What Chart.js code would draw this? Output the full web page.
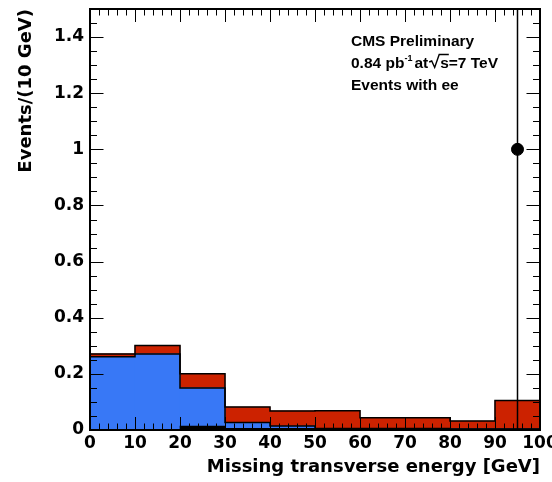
<!DOCTYPE html>
<html>
<head>
<meta charset="utf-8">
<script src="https://cdn.jsdelivr.net/npm/chart.js@4.4.1/dist/chart.umd.min.js"></script>
<style>
  html, body { margin: 0; padding: 0; background: #fff; }
</style>
</head>
<body>
<canvas id="met" width="552" height="482"></canvas>
<script>
// histogram bins (lower edges, GeV) and per-component contents
const binLow = [0, 10, 20, 30, 40, 50, 60, 70, 80, 90];
const binWidth = 10;
const blackVals = [0.002, 0.002, 0.014, 0.006, 0.006, 0.005, 0.005, 0.005, 0.004, 0.004];
const blueVals = [0.259, 0.269, 0.136, 0.021, 0.008, 0, 0, 0, 0, 0];
const redVals = [0.010, 0.030, 0.050, 0.055, 0.054, 0.064, 0.039, 0.039, 0.028, 0.101];

// observed data
const obsX = [95];
const obsY = [1];
const obsErr = [1];

// axes
const xTickVals = [0, 10, 20, 30, 40, 50, 60, 70, 80, 90, 100];
const yTickVals = [0, 0.2, 0.4, 0.6, 0.8, 1, 1.2, 1.4];
const xTitle = 'Missing transverse energy [GeV]';
const yTitle = 'Events/(10 GeV)';
const infoLines = ['CMS Preliminary', '0.84 pb', '-1', 'at', 's=7 TeV', 'Events with ee'];

const COLORS = { blue: '#3878F6', red: '#CC2200', black: '#000' };
const AXIS_FONT = '"DejaVu Sans", sans-serif';
const INFO_FONT = '"Liberation Sans", Arial, sans-serif';

// stacked tops
const cumBlack = blackVals.slice();
const cumBlue = blueVals.map((v, i) => v + cumBlack[i]);
const cumTotal = redVals.map((v, i) => v + cumBlue[i]);

const barPts = arr => arr.map((v, i) => ({ x: binLow[i] + binWidth / 2, y: v }));
const stepPts = arr => binLow.map((x, i) => ({ x, y: arr[i] }))
  .concat([{ x: binLow[binLow.length - 1] + binWidth, y: arr[arr.length - 1] }]);

const histBar = (data, color, order) => ({
  type: 'bar', data: barPts(data), backgroundColor: color, borderWidth: 0,
  grouped: false, barPercentage: 1, categoryPercentage: 1, order,
});
// chart.js 'before' = horizontal first, then the vertical step at the next edge
const histLine = (data, order) => ({
  type: 'line', data: stepPts(data), stepped: 'before', borderColor: '#000',
  borderWidth: 1.5, pointRadius: 0, fill: false, order, clip: 0,
});

// inward ticks on all four sides + frame, ROOT style
const frameTicks = {
  id: 'frameTicks',
  afterDatasetsDraw(chart) {
    const { ctx, chartArea: a, scales: { x, y } } = chart;
    ctx.save();
    ctx.strokeStyle = '#000';
    ctx.lineWidth = 1;
    ctx.beginPath();
    for (let v = 0; v <= 100.001; v += 2) {
      const px = Math.round(x.getPixelForValue(v)) + 0.5;
      const len = Math.abs(v % 10) < 0.01 ? 13 : 6.5;
      ctx.moveTo(px, a.bottom); ctx.lineTo(px, a.bottom - len);
      ctx.moveTo(px, a.top); ctx.lineTo(px, a.top + len);
    }
    for (let k = 0; k <= 30; k++) {
      const v = k * 0.05;
      const py = Math.round(y.getPixelForValue(v)) + 0.5;
      const len = k % 4 === 0 ? 13.5 : 7;
      ctx.moveTo(a.left, py); ctx.lineTo(a.left + len, py);
      ctx.moveTo(a.right, py); ctx.lineTo(a.right - len, py);
    }
    ctx.stroke();
    ctx.lineWidth = 2;
    ctx.strokeRect(a.left, a.top, a.right - a.left, a.bottom - a.top);
    ctx.restore();
  },
  afterDraw(chart) {
    const ctx = chart.ctx;
    ctx.save();
    ctx.fillStyle = '#000';
    ctx.strokeStyle = '#000';
    ctx.textBaseline = 'alphabetic';
    const big = 'bold 15.5px ' + INFO_FONT;
    const x0 = 351;
    ctx.font = big;
    ctx.fillText(infoLines[0], x0, 46);
    // luminosity line with superscript and sqrt(s)
    const b = 67.5;
    let x = x0;
    ctx.fillText(infoLines[1], x, b);
    x += ctx.measureText(infoLines[1]).width;
    ctx.font = 'bold 9px ' + INFO_FONT;
    ctx.fillText(infoLines[2], x, b - 7);
    x += ctx.measureText(infoLines[2]).width + 2;
    ctx.font = big;
    ctx.fillText(infoLines[3], x, b);
    x += ctx.measureText(infoLines[3]).width + 1;
    const sW = ctx.measureText('s').width;
    ctx.lineWidth = 1.4;
    ctx.beginPath();
    ctx.moveTo(x, b - 5.5);
    ctx.lineTo(x + 2.5, b - 6.5);
    ctx.lineTo(x + 5.5, b);
    ctx.lineTo(x + 10, b - 13);
    ctx.lineTo(x + 11 + sW, b - 13);
    ctx.stroke();
    ctx.fillText(infoLines[4], x + 11, b);
    ctx.fillText(infoLines[5], x0, 89.5);
    ctx.restore();
  },
};

new Chart(document.getElementById('met'), {
  type: 'bar',
  data: {
    datasets: [
      histBar(cumTotal, COLORS.red, 9),
      histBar(cumBlue, COLORS.blue, 8),
      histBar(cumBlack, COLORS.black, 7),
      histLine(cumTotal, 6),
      histLine(cumBlue, 5),
      {
        type: 'line', order: 2, clip: 0,
        data: obsX.flatMap((v, i) => [{ x: v, y: obsY[i] - obsErr[i] }, { x: v, y: obsY[i] + obsErr[i] }]),
        borderColor: '#000', borderWidth: 1.5, pointRadius: 0, fill: false,
      },
      {
        type: 'scatter', order: 1,
        data: obsX.map((v, i) => ({ x: v, y: obsY[i] })),
        backgroundColor: '#000', borderColor: '#000', pointRadius: 6, pointHoverRadius: 6,
      },
    ],
  },
  options: {
    responsive: false,
    animation: false,
    events: [],
    layout: { padding: { top: 9, right: 12, left: 0, bottom: 0 } },
    plugins: { legend: { display: false }, tooltip: { enabled: false } },
    scales: {
      x: {
        type: 'linear', min: 0, max: 100, offset: false,
        grid: { display: false, drawTicks: false },
        border: { display: false },
        ticks: { color: '#000', padding: 3, maxRotation: 0, font: { family: AXIS_FONT, size: 17, weight: 'bold' } },
        afterBuildTicks: s => { s.ticks = xTickVals.map(v => ({ value: v })); },
        afterFit: s => { s.height = 52; s.paddingLeft = 0; s.paddingRight = 0; },
        title: {
          display: true, text: xTitle, align: 'end', color: '#000',
          font: { family: AXIS_FONT, size: 18, weight: 'bold' }, padding: { bottom: 4, top: 0 },
        },
      },
      y: {
        type: 'linear', min: 0, max: 1.5,
        grid: { display: false, drawTicks: false },
        border: { display: false },
        ticks: {
          color: '#000', padding: 6,
          font: { family: AXIS_FONT, size: 17, weight: 'bold' },
          callback: v => String(+v.toFixed(2)),
        },
        afterBuildTicks: s => { s.ticks = yTickVals.map(v => ({ value: v })); },
        afterFit: s => { s.width = 90; s.paddingTop = 0; s.paddingBottom = 0; },
        title: {
          display: true, text: yTitle, align: 'end', color: '#000',
          font: { family: AXIS_FONT, size: 18, weight: 'bold' }, padding: { top: 16, bottom: 0 },
        },
      },
    },
  },
  plugins: [frameTicks],
});
</script>
</body>
</html>
